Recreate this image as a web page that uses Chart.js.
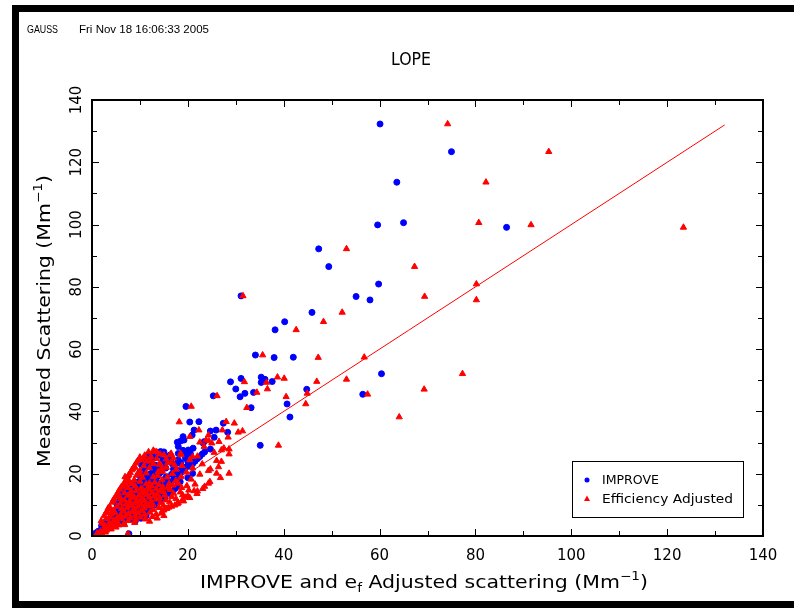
<!DOCTYPE html>
<html>
<head>
<meta charset="utf-8">
<title>LOPE</title>
<script src="https://cdn.jsdelivr.net/npm/chart.js@4.4.0/dist/chart.umd.min.js"></script>
<style>
    html, body { margin: 0; padding: 0; background: #fff; }
    #wrap { width: 794px; height: 610px; position: relative; }
</style>
</head>
<body>
<div id="wrap"><canvas id="chart" width="794" height="610"></canvas></div>
<script>
// Measured scattering (y) shared by both series, one value per sample
const measured = [
    132.3, 123.4, 113.6, 100.6, 99.9, 99.1, 92.2, 86.5, 80.9, 76.9,
    75.8, 77.1, 71.8, 68.8, 66.2, 58.1, 57.3, 57.4, 52.1, 45.5,
    47.1, 38.2, 50.3, 49.6, 51.0, 50.6, 49.3, 47.2, 46.1, 44.7,
    45.8, 42.4, 41.2, 45.0, 41.6, 29.1, 49.5,
    36.6, 36.7, 36.2, 34.0, 33.7, 34.0, 33.3, 32.4, 31.7, 31.9,
    30.8, 30.1, 30.5, 29.8, 28.7, 28.2, 27.9, 27.1, 26.8, 26.3,
    26.0, 25.0, 24.2, 20.1, 20.6, 26.0, 22.8, 25.5, 24.4, 19.0,
    9.0, 16.9, 14.5, 12.4, 21.5, 30.3, 27.6,
    0.6, 0.7, 1.0, 1.2, 1.5, 1.8, 2.0, 2.2, 2.5, 2.8,
    3.0, 3.3, 3.5, 3.6, 3.8, 4.0, 4.2, 4.3, 4.5, 4.7,
    4.9, 5.0, 5.2, 5.4, 5.5, 5.7, 5.8, 6.0, 6.0, 6.2,
    6.3, 6.5, 6.6, 6.8, 6.9, 7.0, 7.1, 7.3, 7.4, 7.5,
    7.6, 7.8, 7.9, 8.0, 8.1, 8.3, 8.4, 8.5, 8.6, 8.8,
    8.9, 9.0, 9.1, 9.2, 9.3, 9.4, 9.5, 9.6, 9.7, 9.8,
    9.9, 10.0, 10.1, 10.2, 10.3, 10.4, 10.5, 10.6, 10.7, 10.8,
    10.9, 11.0, 11.1, 11.2, 11.3, 11.4, 11.5, 11.6, 11.7, 11.8,
    11.9, 12.0, 12.1, 12.2, 12.3, 12.4, 12.5, 12.6, 12.7, 12.8,
    12.9, 13.0, 13.1, 13.2, 13.3, 13.4, 13.5, 13.6, 13.7, 13.8,
    13.9, 14.0, 14.1, 14.2, 14.3, 14.4, 14.5, 14.6, 14.7, 14.8,
    14.9, 15.0, 15.1, 15.2, 15.3, 15.4, 15.5, 15.6, 15.7, 15.8,
    15.9, 16.0, 16.1, 16.2, 16.3, 16.4, 16.5, 16.6, 16.7, 16.8,
    16.9, 17.0, 17.2, 17.4, 17.6, 17.8, 18.0, 18.2, 18.3, 18.5,
    18.7, 18.9, 19.0, 19.2, 19.4, 19.6, 19.8, 20.0, 20.1, 20.3,
    20.5, 20.7, 21.0, 21.2, 21.4, 21.6, 21.8, 22.0, 22.2, 22.4,
    22.6, 22.9, 23.1, 23.4, 23.6, 23.9, 24.1, 24.4, 24.7, 25.3,
    25.6, 26.0,
    4.8, 6.4, 8.0, 11.4, 13.3, 17.3, 22.0, 25.9, 27.0, 24.0,
    20.0, 23.0, 26.5, 27.5,
    5.5, 7.0, 8.2, 9.5, 10.5, 11.5, 12.0, 13.0, 13.8, 14.5,
    15.5, 16.0, 16.8, 17.5, 18.0, 18.8, 19.5, 20.2, 21.0, 21.8,
    22.5, 23.2, 24.0, 24.8, 25.5, 26.3, 27.0, 12.5, 15.0, 17.0,
    19.0, 21.5, 23.5, 25.0, 26.5, 10.0, 8.8, 7.5, 6.0, 4.0
];

// IMPROVE calculated scattering (x, blue dots)
const improveX = [
    60.1, 75.0, 63.6, 65.0, 59.6, 86.5, 47.3, 49.4, 59.8, 55.1,
    58.0, 31.1, 45.9, 40.2, 38.2, 34.1, 38.0, 42.0, 60.4, 56.5,
    44.8, 41.3, 36.1, 37.6, 35.3, 31.1, 35.3, 30.0, 33.7, 30.9,
    31.9, 40.7, 33.2, 25.3, 19.6, 35.1, 28.9,
    20.4, 22.3, 27.4, 21.3, 24.7, 25.9, 28.3, 20.9, 25.5, 19.0,
    19.2, 17.8, 18.5, 23.2, 18.0, 21.1, 24.7, 14.3, 19.6, 20.5,
    16.3, 12.8, 11.1, 17.0, 10.0, 11.7, 13.1, 16.2, 18.0, 12.5,
    5.6, 18.0, 16.0, 14.5, 19.0, 23.4, 20.1,
    1.5, 7.7, 0.8, 2.1, 1.3, 2.2, 1.9, 3.0, 2.6, 3.8,
    3.3, 2.0, 4.2, 5.0, 3.1, 5.0, 2.6, 6.6, 4.0, 9.0,
    5.6, 3.4, 6.8, 8.3, 4.6, 10.2, 6.0, 3.9, 7.4, 9.3,
    5.1, 11.3, 6.7, 4.4, 8.2, 10.0, 5.6, 11.0, 7.2, 5.0,
    8.9, 6.2, 10.8, 4.9, 7.7, 11.2, 9.5, 6.6, 5.6, 11.6,
    8.0, 5.3, 10.2, 12.0, 7.0, 6.1, 12.4, 8.7, 6.0, 11.0,
    13.0, 7.6, 9.4, 5.2, 13.2, 8.3, 6.6, 10.6, 13.4, 7.0,
    12.0, 7.3, 9.0, 14.2, 5.8, 8.0, 11.4, 6.8, 14.0, 9.8,
    7.7, 13.0, 7.8, 10.4, 15.2, 6.2, 8.8, 12.3, 8.3, 9.6,
    15.2, 7.2, 11.2, 14.0, 8.4, 6.2, 10.0, 16.3, 12.6, 7.6,
    9.2, 9.0, 13.6, 11.0, 8.0, 16.8, 6.7, 10.5, 15.0, 8.8,
    12.0, 9.7, 9.8, 17.3, 7.4, 11.6, 13.8, 8.5, 10.2, 10.8,
    17.8, 9.0, 14.6, 10.6, 12.4, 10.9, 10.2, 16.0, 8.2, 11.8,
    13.2, 11.0, 9.5, 18.4, 11.5, 12.8, 10.6, 15.2, 11.9, 12.0,
    20.0, 11.4, 13.6, 12.4, 9.9, 12.7, 16.6, 12.2, 21.0, 13.2,
    14.4, 10.6, 18.0, 13.8, 12.8, 14.0, 15.4, 11.2, 19.6, 14.6,
    13.6, 10.3, 16.8, 15.2, 12.0, 20.0, 15.7, 14.8, 11.1, 16.4,
    16.0, 12.6,
    3.0, 4.0, 4.6, 6.5, 7.6, 9.6, 12.5, 14.0, 15.0, 16.5,
    14.0, 17.5, 18.0, 19.0,
    5.0, 6.5, 7.5, 9.0, 9.8, 10.0, 11.5, 12.0, 13.0, 13.5,
    14.0, 15.0, 15.5, 16.0, 17.0, 17.5, 18.0, 18.5, 19.0, 19.5,
    20.0, 21.0, 21.5, 22.0, 22.5, 23.0, 23.5, 10.5, 12.5, 14.0,
    15.5, 17.0, 18.5, 19.5, 20.5, 8.5, 7.0, 6.0, 5.0, 3.5
];

// Efficiency adjusted scattering (x, red triangles)
const adjustedX = [
    74.2, 95.3, 82.2, 80.7, 91.6, 123.4, 53.1, 67.3, 80.2, 69.4,
    80.2, 31.5, 52.2, 48.3, 42.6, 35.6, 47.2, 56.8, 77.3, 57.5,
    69.3, 64.1, 53.1, 46.9, 38.7, 40.1, 36.4, 36.6, 34.4, 40.5,
    44.9, 44.6, 32.3, 26.1, 20.7, 38.9, 31.8,
    18.2, 28.0, 29.7, 22.3, 31.4, 27.2, 30.5, 24.3, 28.4, 20.4,
    23.8, 22.5, 24.4, 25.0, 23.4, 27.5, 28.6, 13.1, 25.5, 28.6,
    18.6, 10.7, 26.0, 28.6, 13.8, 15.0, 17.2, 21.0, 10.3, 6.9,
    3.4, 24.3, 21.3, 19.5, 24.7, 26.5, 27.0,
    2.0, 7.5, 1.1, 2.8, 1.8, 3.0, 2.6, 4.0, 3.5, 5.0,
    4.4, 2.7, 5.6, 6.8, 4.2, 6.7, 3.6, 8.9, 5.3, 12.0,
    7.6, 4.6, 9.1, 11.2, 6.2, 13.6, 8.0, 5.3, 10.1, 12.6,
    6.9, 15.0, 9.0, 6.0, 11.0, 13.4, 7.6, 14.5, 9.7, 3.0,
    12.1, 8.4, 14.6, 6.6, 10.4, 15.0, 12.8, 8.9, 3.4, 15.6,
    10.9, 7.3, 13.9, 16.0, 9.5, 3.7, 16.6, 11.8, 8.2, 14.9,
    17.3, 10.3, 12.7, 7.1, 17.8, 11.3, 9.0, 14.3, 18.0, 4.2,
    16.2, 9.9, 12.3, 19.1, 7.9, 10.9, 15.4, 9.3, 18.9, 13.4,
    4.6, 17.5, 10.6, 14.1, 20.4, 8.5, 12.0, 16.6, 5.0, 13.0,
    20.0, 9.8, 15.2, 18.9, 11.5, 8.2, 13.6, 21.9, 17.0, 10.4,
    12.6, 5.4, 18.4, 14.9, 11.0, 22.0, 9.2, 14.3, 20.2, 12.0,
    16.3, 5.8, 13.4, 23.1, 10.2, 15.8, 18.7, 11.7, 6.1, 14.8,
    23.5, 12.4, 19.8, 6.4, 16.9, 6.6, 14.0, 21.5, 11.3, 16.1,
    18.0, 6.7, 13.1, 24.6, 7.0, 17.5, 14.6, 20.7, 7.2, 7.4,
    26.8, 15.7, 18.6, 7.5, 13.7, 7.7, 22.5, 16.8, 26.0, 8.0,
    19.7, 14.7, 24.3, 8.3, 17.6, 8.5, 21.0, 15.5, 26.4, 8.8,
    18.8, 14.3, 23.0, 9.2, 16.6, 27.0, 9.5, 20.4, 15.5, 10.0,
    22.0, 16.3,
    1.9, 2.5, 3.1, 4.4, 5.2, 7.8, 9.0, 11.0, 11.8, 12.3,
    9.9, 14.0, 16.5, 12.8,
    3.0, 4.0, 4.5, 5.2, 6.0, 6.8, 6.0, 7.5, 6.8, 8.2,
    7.5, 9.0, 8.3, 10.0, 8.8, 10.5, 9.3, 11.3, 10.0, 12.0,
    10.8, 12.8, 11.5, 13.5, 12.3, 14.2, 13.5, 8.8, 10.5, 12.0,
    12.8, 14.5, 15.8, 17.0, 18.5, 7.8, 6.2, 4.8, 3.8, 2.2
];

// 1:1 reference line
const lineX = [0, 132];
const lineY = [0, 132];

// axis ticks
const tickValues = [0, 20, 40, 60, 80, 100, 120, 140];
const minorTicks = [10, 30, 50, 70, 90, 110, 130];

const headerLeft = 'GAUSS';
const headerRight = 'Fri Nov 18 16:06:33 2005';
const titleText = 'LOPE';
const legendLabels = ['IMPROVE', 'Efficiency Adjusted'];

const BLUE = '#0000ff';
const RED = '#ff0000';

// Draw pieces of text (with sub/superscripts) squeezed into a given width
function drawRich(ctx, parts, x, y, width, align) {
    let total = 0;
    parts.forEach(p => {
        ctx.font = p.font;
        p.w = ctx.measureText(p.t).width;
        total += p.w;
    });
    const sx = width / total;
    ctx.save();
    const startX = align === 'left' ? x : x - width / 2;
    ctx.translate(startX, y);
    ctx.scale(sx, 1);
    let cx = 0;
    ctx.textAlign = 'left';
    ctx.textBaseline = 'alphabetic';
    parts.forEach(p => {
        ctx.font = p.font;
        ctx.fillText(p.t, cx, p.dy || 0);
        cx += p.w;
    });
    ctx.restore();
}

const frameAndText = {
    id: 'frameAndText',
    afterDraw(chart) {
        const { ctx, chartArea: a, scales } = chart;
        const xs = scales.x, ys = scales.y;
        ctx.save();
        ctx.fillStyle = '#000';
        ctx.strokeStyle = '#000';

        // inward ticks on all four sides
        ctx.lineWidth = 1;
        const drawTicks = (vals, len) => {
            vals.forEach(v => {
                const px = Math.round(xs.getPixelForValue(v)) + 0.5;
                const py = Math.round(ys.getPixelForValue(v)) + 0.5;
                ctx.beginPath();
                ctx.moveTo(px, a.bottom); ctx.lineTo(px, a.bottom - len);
                ctx.moveTo(px, a.top); ctx.lineTo(px, a.top + len);
                ctx.moveTo(a.left, py); ctx.lineTo(a.left + len, py);
                ctx.moveTo(a.right, py); ctx.lineTo(a.right - len, py);
                ctx.stroke();
            });
        };
        drawTicks(tickValues, 7);
        drawTicks(minorTicks, 5);

        // plot frame
        ctx.lineWidth = 2;
        ctx.strokeRect(a.left, a.top, a.right - a.left, a.bottom - a.top);

        // tick labels
        ctx.font = '15px "DejaVu Sans"';
        ctx.textAlign = 'center';
        ctx.textBaseline = 'alphabetic';
        tickValues.forEach(v => {
            ctx.fillText(String(v), xs.getPixelForValue(v), 560);
        });
        tickValues.forEach(v => {
            ctx.save();
            ctx.translate(81, ys.getPixelForValue(v));
            ctx.rotate(-Math.PI / 2);
            ctx.fillText(String(v), 0, 0);
            ctx.restore();
        });

        // axis titles
        const big = '18px "DejaVu Sans"';
        const small = '12px "DejaVu Sans"';
        drawRich(ctx, [
            { t: 'IMPROVE and e', font: big },
            { t: 'f', font: small, dy: 4 },
            { t: ' Adjusted scattering (Mm', font: big },
            { t: '\u22121', font: small, dy: -8 },
            { t: ')', font: big }
        ], 424, 588, 448);

        ctx.save();
        ctx.translate(50, 321);
        ctx.rotate(-Math.PI / 2);
        drawRich(ctx, [
            { t: 'Measured Scattering (Mm', font: big },
            { t: '\u22121', font: small, dy: -8 },
            { t: ')', font: big }
        ], 0, 0, 292);
        ctx.restore();

        // title and header
        drawRich(ctx, [{ t: titleText, font: '17px "DejaVu Sans"' }], 411, 65, 40);
        drawRich(ctx, [{ t: headerLeft, font: '10px "Liberation Sans"' }], 27, 33, 31, 'left');
        drawRich(ctx, [{ t: headerRight, font: '10px "Liberation Sans"' }], 79, 33, 130, 'left');

        // legend box
        ctx.lineWidth = 1;
        ctx.strokeRect(572.5, 461.5, 171, 56);
        ctx.fillStyle = BLUE;
        ctx.beginPath();
        ctx.arc(587, 480, 2.5, 0, Math.PI * 2);
        ctx.fill();
        ctx.fillStyle = RED;
        ctx.beginPath();
        ctx.moveTo(587, 495.5); ctx.lineTo(590, 501); ctx.lineTo(584, 501);
        ctx.closePath();
        ctx.fill();
        ctx.fillStyle = '#000';
        drawRich(ctx, [{ t: legendLabels[0], font: '12px "DejaVu Sans"' }], 602, 484, 57, 'left');
        drawRich(ctx, [{ t: legendLabels[1], font: '12px "DejaVu Sans"' }], 602, 503, 131, 'left');

        // outer page border
        ctx.fillRect(12, 5, 782, 7);
        ctx.fillRect(12, 5, 7, 603);
        ctx.fillRect(12, 601, 782, 7);
        ctx.restore();
    }
};

const improvePoints = measured.map((y, i) => ({ x: improveX[i], y: y }));
const adjustedPoints = measured.map((y, i) => ({ x: adjustedX[i], y: y }));
const linePoints = lineX.map((x, i) => ({ x: x, y: lineY[i] }));

const ctx = document.getElementById('chart').getContext('2d');
new Chart(ctx, {
    type: 'scatter',
    data: {
        datasets: [
            {
                label: legendLabels[0],
                data: improvePoints,
                pointStyle: 'circle',
                pointRadius: 3,
                pointBorderWidth: 1,
                backgroundColor: BLUE,
                borderColor: BLUE,
                order: 2
            },
            {
                label: legendLabels[1],
                data: adjustedPoints,
                pointStyle: 'triangle',
                pointRadius: 3.6,
                pointBorderWidth: 1,
                backgroundColor: RED,
                borderColor: RED,
                order: 1
            },
            {
                label: '1:1',
                data: linePoints,
                showLine: true,
                pointRadius: 0,
                borderColor: RED,
                borderWidth: 1,
                order: 0
            }
        ]
    },
    options: {
        responsive: false,
        animation: false,
        devicePixelRatio: 1,
        layout: {
            padding: { left: 92, top: 100, right: 31, bottom: 74 }
        },
        plugins: {
            legend: { display: false },
            title: { display: false },
            tooltip: { enabled: false }
        },
        scales: {
            x: { type: 'linear', min: 0, max: 140, display: false },
            y: { type: 'linear', min: 0, max: 140, display: false }
        }
    },
    plugins: [frameAndText]
});
</script>
</body>
</html>
